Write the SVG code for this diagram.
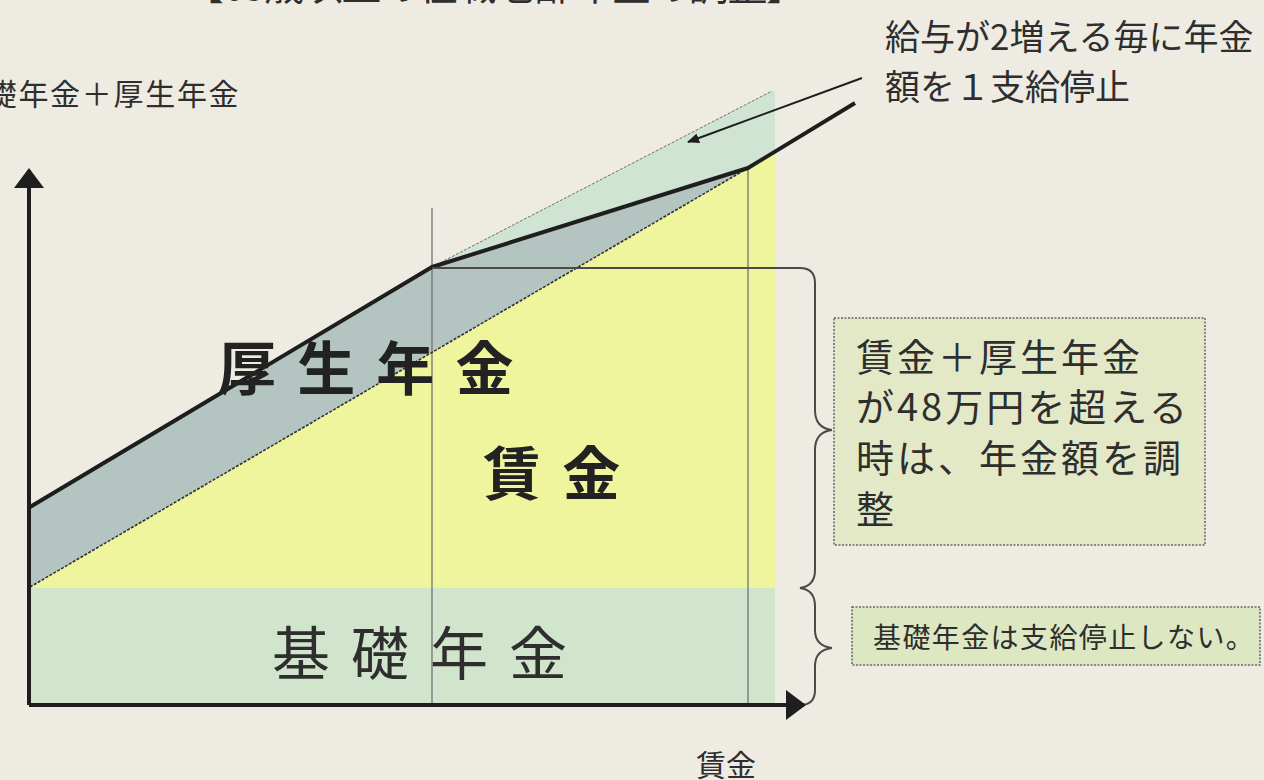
<svg xmlns="http://www.w3.org/2000/svg" width="1264" height="780" viewBox="0 0 1264 780">
  <defs>
    <style>
      .jp { font-family: "Noto Sans CJK JP", "Noto Sans CJK SC", sans-serif; fill: #2e2e2e; }
      .big { font-size: 58px; }
      .bold { font-weight: bold; fill: #222; }
      .axis { stroke: #1e1e1e; stroke-width: 4; fill: none; }
      .thin { stroke: #6a6a6a; stroke-width: 1.2; fill: none; }
      .box { stroke: #666; stroke-width: 1.5; stroke-dasharray: 2 1.5; }
    </style>
    <marker id="ah" viewBox="0 0 12 10" refX="11" refY="5" markerWidth="12" markerHeight="10" markerUnits="userSpaceOnUse" orient="auto">
      <path d="M0,0 L12,5 L0,10 Z" fill="#1e1e1e"/>
    </marker>
    <marker id="axh" viewBox="0 0 20 30" refX="18" refY="15" markerWidth="20" markerHeight="30" markerUnits="userSpaceOnUse" orient="auto">
      <path d="M0,0 L20,15 L0,30 Z" fill="#1e1e1e"/>
    </marker>
  </defs>

  <rect x="0" y="0" width="1264" height="780" fill="#eeebe2"/>

  <g id="title">
    <text class="jp" x="495" y="0" font-size="40" text-anchor="middle" textLength="622" lengthAdjust="spacing">【65歳以上の在職老齢年金の調整】</text>
  </g>

  <g id="regions">
    <rect id="kiso-band" x="30" y="588" width="745" height="117" fill="#d1e5cd"/>
    <polygon id="chingin-area" points="30,587 748,168 775,152 775,588 30,588" fill="#eef59c"/>
    <polygon id="kousei-area" points="30,507 432,267 748,168 30,587" fill="#b4c4c0"/>
    <polygon id="teishi-area" points="432,267 772,91 775,91 775,152 748,168" fill="#d0e4d3"/>
  </g>

  <g id="connectors">
    <line class="thin" x1="432" y1="208" x2="432" y2="705"/>
    <line class="thin" x1="748" y1="168" x2="748" y2="705"/>
    <line x1="432" y1="267" x2="772" y2="91" stroke="#707070" stroke-width="1" stroke-dasharray="3 1.5"/>
    <line x1="30" y1="587" x2="748" y2="168" stroke="#333" stroke-width="1.6" stroke-dasharray="3 1.5"/>
    <polyline points="30,507 432,267 748,168 855,103" fill="none" stroke="#1e1e1e" stroke-width="4" stroke-linejoin="round"/>
    <path d="M432 268 H800 Q815 268 815 283 V410 Q815 428 832 430 Q815 432 815 450 V570 Q815 586 800 588 Q815 590 815 606 V630 Q815 646 832 648 Q815 650 815 666 V690 Q815 705 800 705" fill="none" stroke="#4a4a4a" stroke-width="2"/>
    <line x1="862" y1="78" x2="688" y2="142" stroke="#1e1e1e" stroke-width="2" marker-end="url(#ah)"/>
    <line class="axis" x1="29" y1="705" x2="29" y2="170" marker-end="url(#axh)"/>
    <line class="axis" x1="29" y1="705" x2="804" y2="705" marker-end="url(#axh)"/>
  </g>

  <g id="label-kousei">
    <text class="jp big bold" x="218" y="390" letter-spacing="4">厚 生 年 金</text>
  </g>
  <g id="label-chingin">
    <text class="jp big bold" x="483" y="495" letter-spacing="4">賃 金</text>
  </g>
  <g id="label-kiso">
    <text class="jp big" x="272" y="675" letter-spacing="4">基 礎 年 金</text>
  </g>

  <g id="axis-y-label">
    <text class="jp" x="-45" y="105" font-size="30" letter-spacing="1.7">基礎年金＋厚生年金</text>
  </g>
  <g id="axis-x-label">
    <text class="jp" x="696" y="776" font-size="30">賃金</text>
  </g>

  <g id="note-stop">
    <text class="jp" x="885" y="50" font-size="35">給与が2増える毎に年金</text>
    <text class="jp" x="885" y="100" font-size="35">額を１支給停止</text>
  </g>

  <g id="box-adjust">
    <rect class="box" x="834" y="318" width="371" height="227" fill="#e3e8c7"/>
    <text class="jp" x="856" y="371" font-size="38" letter-spacing="3">賃金＋厚生年金</text>
    <text class="jp" x="856" y="421" font-size="38" letter-spacing="3">が48万円を超える</text>
    <text class="jp" x="856" y="472" font-size="38" letter-spacing="3">時は、年金額を調</text>
    <text class="jp" x="856" y="523" font-size="38" letter-spacing="3">整</text>
  </g>

  <g id="box-kiso">
    <rect class="box" x="852" y="607" width="408" height="58" fill="#dde8c2"/>
    <text class="jp" x="873" y="648" font-size="28" letter-spacing="1.4">基礎年金は支給停止しない。</text>
  </g>
</svg>
